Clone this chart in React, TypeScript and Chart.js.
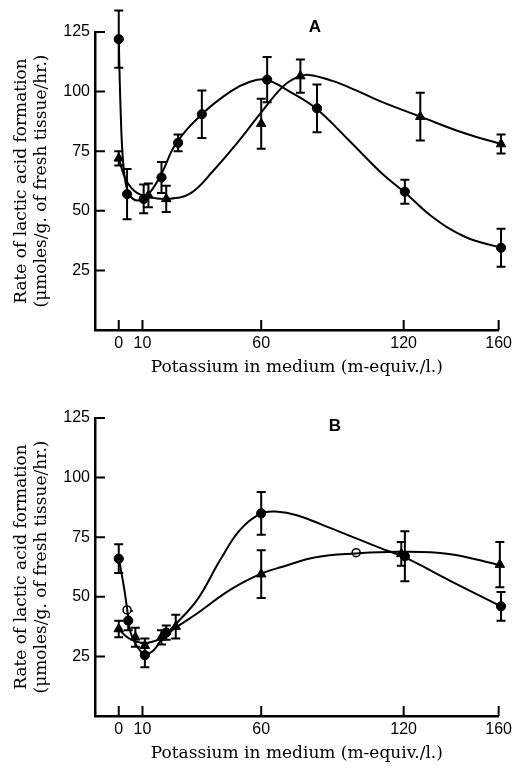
import React, { useEffect, useRef } from 'react';
import { Chart, registerables } from 'chart.js';

Chart.register(...registerables);

// ---- shared axis content ----
const xTicks = [0, 10, 60, 120, 160];
const yTicks = [25, 50, 75, 100, 125];
const xTitle = 'Potassium in medium (m-equiv./l.)';
const yTitle = ['Rate of lactic acid formation', '(\u03bcmoles/g. of fresh tissue/hr.)'];

// ---- Panel A ----
const aLabel = 'A';
const aCircleX = [0, 3.5, 10.5, 18, 25, 35, 62.5, 83.5, 120.5, 161];
const aCircleY = [122, 57, 55, 64, 78.5, 90.5, 105, 93, 58, 34.5];
const aCircleErr = [12, 10.5, 6, 6.5, 3.5, 10, 9.5, 10, 5, 8];
const aTriX = [0, 12.5, 20, 60, 76.5, 127, 161];
const aTriY = [72, 56.5, 55, 86.5, 106.5, 89.5, 78];
const aTriErr = [3, 5, 5.5, 10.5, 7, 10, 4];
const aCircleCurveX = [0, 0.8, 1.8, 3.5, 6, 9, 13, 18, 24, 35, 47, 55, 62, 72, 83, 97, 111, 120.5, 132, 146, 161];
const aCircleCurveY = [122, 92, 71, 59, 55, 54.5, 57.5, 65.5, 78, 90.5, 100, 104, 105, 100, 93, 79.5, 65.5, 57.7, 47.5, 39, 34.5];
const aTriCurveX = [0, 3, 7, 12, 20, 30, 40, 49.5, 59, 69, 75, 80, 90, 100, 110, 127, 146, 161];
const aTriCurveY = [72, 63, 58, 56, 55, 57.2, 67, 78, 90, 102, 106, 107, 104.5, 100.5, 96, 89.5, 82.4, 78];

// ---- Panel B ----
const bLabel = 'B';
const bCircleX = [0, 4, 11, 20, 60, 120.5, 161];
const bCircleY = [66, 40, 25.5, 35, 85, 67, 46];
const bCircleErr = [6, 4, 5, 3, 9, 10.5, 6];
const bTriX = [0, 7, 11, 18, 24, 60, 119, 160.5];
const bTriY = [36.5, 33, 29.5, 33, 37.5, 59.5, 68, 63.5];
const bTriErr = [3.5, 4, 3, 3, 5, 10, 5, 9.5];
const bOpenX = [3.5, 100];
const bOpenY = [44.5, 68.5];
const bCircleCurveX = [0, 2.2, 3.6, 5, 7.8, 11, 14.8, 18.3, 23, 33, 42.7, 51, 60, 67, 75, 85, 100, 110, 120.5, 140, 161];
const bCircleCurveY = [66.4, 54, 44.5, 35, 29, 26, 27.7, 32.6, 37.5, 48.7, 65.4, 78, 85, 85.7, 84.2, 80.5, 74.5, 70.5, 66.5, 56.5, 46];
const bTriCurveX = [0, 4.3, 10.6, 18, 23.9, 33, 46.9, 60, 69, 83, 100, 118, 139, 160.5];
const bTriCurveY = [36.4, 32.6, 30.7, 32.6, 37, 43, 52.9, 59.7, 62.6, 66.6, 68.2, 68.9, 68, 63.3];

const W = 516;
const H = 386;

const pts = (xs: number[], ys: number[]) => xs.map((x, i) => ({ x, y: ys[i] }));

const errorBarPlugin = {
  id: 'errorBars',
  beforeDatasetsDraw(chart: any) {
    const { ctx, scales } = chart;
    ctx.save();
    ctx.strokeStyle = '#000';
    ctx.lineWidth = 2;
    chart.data.datasets.forEach((ds: any) => {
      if (!ds.errors) return;
      ds.data.forEach((p: any, i: number) => {
        const e = ds.errors[i];
        if (!e) return;
        const px = scales.x.getPixelForValue(p.x);
        const y1 = scales.y.getPixelForValue(p.y + e);
        const y2 = scales.y.getPixelForValue(p.y - e);
        ctx.beginPath();
        ctx.moveTo(px, y1);
        ctx.lineTo(px, y2);
        ctx.moveTo(px - 4.5, y1);
        ctx.lineTo(px + 4.5, y1);
        ctx.moveTo(px - 4.5, y2);
        ctx.lineTo(px + 4.5, y2);
        ctx.stroke();
      });
    });
    ctx.restore();
  },
};

const innerTicksPlugin = {
  id: 'innerTicks',
  afterDraw(chart: any) {
    const { ctx, scales, chartArea } = chart;
    ctx.save();
    ctx.strokeStyle = '#000';
    ctx.lineWidth = 2;
    ctx.beginPath();
    xTicks.forEach((v) => {
      const px = scales.x.getPixelForValue(v);
      ctx.moveTo(px, chartArea.bottom);
      ctx.lineTo(px, chartArea.bottom - 10);
    });
    yTicks.forEach((v) => {
      const py = scales.y.getPixelForValue(v);
      ctx.moveTo(chartArea.left, py);
      ctx.lineTo(chartArea.left + 10, py);
    });
    ctx.stroke();
    ctx.restore();
  },
};

const panelLabelPlugin = {
  id: 'panelLabel',
  afterDraw(chart: any, _args: any, opts: any) {
    const { ctx } = chart;
    ctx.save();
    ctx.fillStyle = '#000';
    ctx.font = 'bold 17px "Liberation Sans"';
    ctx.textAlign = 'center';
    ctx.textBaseline = 'middle';
    ctx.fillText(opts.text, opts.x, opts.y);
    ctx.restore();
  },
};

type PanelProps = {
  label: string;
  labelX: number;
  labelY: number;
  circleX: number[];
  circleY: number[];
  circleErr: number[];
  triX: number[];
  triY: number[];
  triErr: number[];
  openX?: number[];
  openY?: number[];
  cCurveX: number[];
  cCurveY: number[];
  tCurveX: number[];
  tCurveY: number[];
};

function Panel(p: PanelProps) {
  const ref = useRef<HTMLCanvasElement | null>(null);
  useEffect(() => {
    if (!ref.current) return;
    const curve = (xs: number[], ys: number[]) => ({
      type: 'line',
      data: pts(xs, ys),
      borderColor: '#000',
      borderWidth: 2,
      pointRadius: 0,
      fill: false,
      tension: 0.4,
      clip: false,
    });
    const datasets: any[] = [
      curve(p.cCurveX, p.cCurveY),
      curve(p.tCurveX, p.tCurveY),
      {
        type: 'scatter',
        data: pts(p.circleX, p.circleY),
        errors: p.circleErr,
        pointStyle: 'circle',
        pointRadius: 4.6,
        backgroundColor: '#000',
        borderColor: '#000',
        borderWidth: 1,
        clip: false,
      },
      {
        type: 'scatter',
        data: pts(p.triX, p.triY),
        errors: p.triErr,
        pointStyle: 'triangle',
        pointRadius: 5.5,
        backgroundColor: '#000',
        borderColor: '#000',
        borderWidth: 1,
        clip: false,
      },
    ];
    if (p.openX && p.openY) {
      datasets.push({
        type: 'scatter',
        data: pts(p.openX, p.openY),
        pointStyle: 'circle',
        pointRadius: 4,
        backgroundColor: '#fff',
        borderColor: '#000',
        borderWidth: 1.5,
        clip: false,
      });
    }
    const chart = new Chart(ref.current, {
      type: 'scatter',
      data: { datasets },
      plugins: [errorBarPlugin, innerTicksPlugin, panelLabelPlugin],
      options: {
        animation: false,
        responsive: false,
        devicePixelRatio: 1,
        events: [],
        layout: { padding: { left: 0, right: 16, top: 32, bottom: 0 } },
        plugins: {
          legend: { display: false },
          tooltip: { enabled: false },
          panelLabel: { text: p.label, x: p.labelX, y: p.labelY },
        } as any,
        scales: {
          x: {
            type: 'linear',
            min: -10,
            max: 160,
            afterBuildTicks: (s: any) => {
              s.ticks = xTicks.map((v) => ({ value: v }));
            },
            afterFit: (s: any) => {
              s.height = 56;
            },
            grid: { display: false, drawTicks: false },
            border: { display: true, color: '#000', width: 2.5 },
            ticks: {
              color: '#000',
              font: { family: '"Liberation Sans"', size: 16 },
              padding: 4,
              maxRotation: 0,
              autoSkip: false,
            },
            title: {
              display: true,
              text: xTitle,
              color: '#000',
              font: { family: '"DejaVu Serif"', size: 17, lineHeight: 1.2 },
              padding: { top: 0, bottom: 8 },
            },
          },
          y: {
            type: 'linear',
            min: 0,
            max: 125,
            afterBuildTicks: (s: any) => {
              s.ticks = yTicks.map((v) => ({ value: v }));
            },
            afterFit: (s: any) => {
              s.width = 95;
            },
            grid: { display: false, drawTicks: false },
            border: { display: true, color: '#000', width: 2.5 },
            ticks: {
              color: '#000',
              font: { family: '"Liberation Sans"', size: 16 },
              padding: 5,
              autoSkip: false,
            },
            title: {
              display: true,
              text: yTitle,
              color: '#000',
              font: { family: '"DejaVu Serif"', size: 17, lineHeight: 1.15 },
              padding: { top: 12, bottom: 0 },
            },
          },
        },
      } as any,
    } as any);
    return () => chart.destroy();
  }, []);
  return <canvas ref={ref} width={W} height={H} style={{ display: 'block', width: W, height: H }} />;
}

export default function App() {
  return (
    <div style={{ position: 'absolute', left: 0, top: 0, width: W, height: 2 * H, background: '#fff' }}>
      <Panel
        label={aLabel}
        labelX={315}
        labelY={27}
        circleX={aCircleX}
        circleY={aCircleY}
        circleErr={aCircleErr}
        triX={aTriX}
        triY={aTriY}
        triErr={aTriErr}
        cCurveX={aCircleCurveX}
        cCurveY={aCircleCurveY}
        tCurveX={aTriCurveX}
        tCurveY={aTriCurveY}
      />
      <Panel
        label={bLabel}
        labelX={335}
        labelY={40}
        circleX={bCircleX}
        circleY={bCircleY}
        circleErr={bCircleErr}
        triX={bTriX}
        triY={bTriY}
        triErr={bTriErr}
        openX={bOpenX}
        openY={bOpenY}
        cCurveX={bCircleCurveX}
        cCurveY={bCircleCurveY}
        tCurveX={bTriCurveX}
        tCurveY={bTriCurveY}
      />
    </div>
  );
}
